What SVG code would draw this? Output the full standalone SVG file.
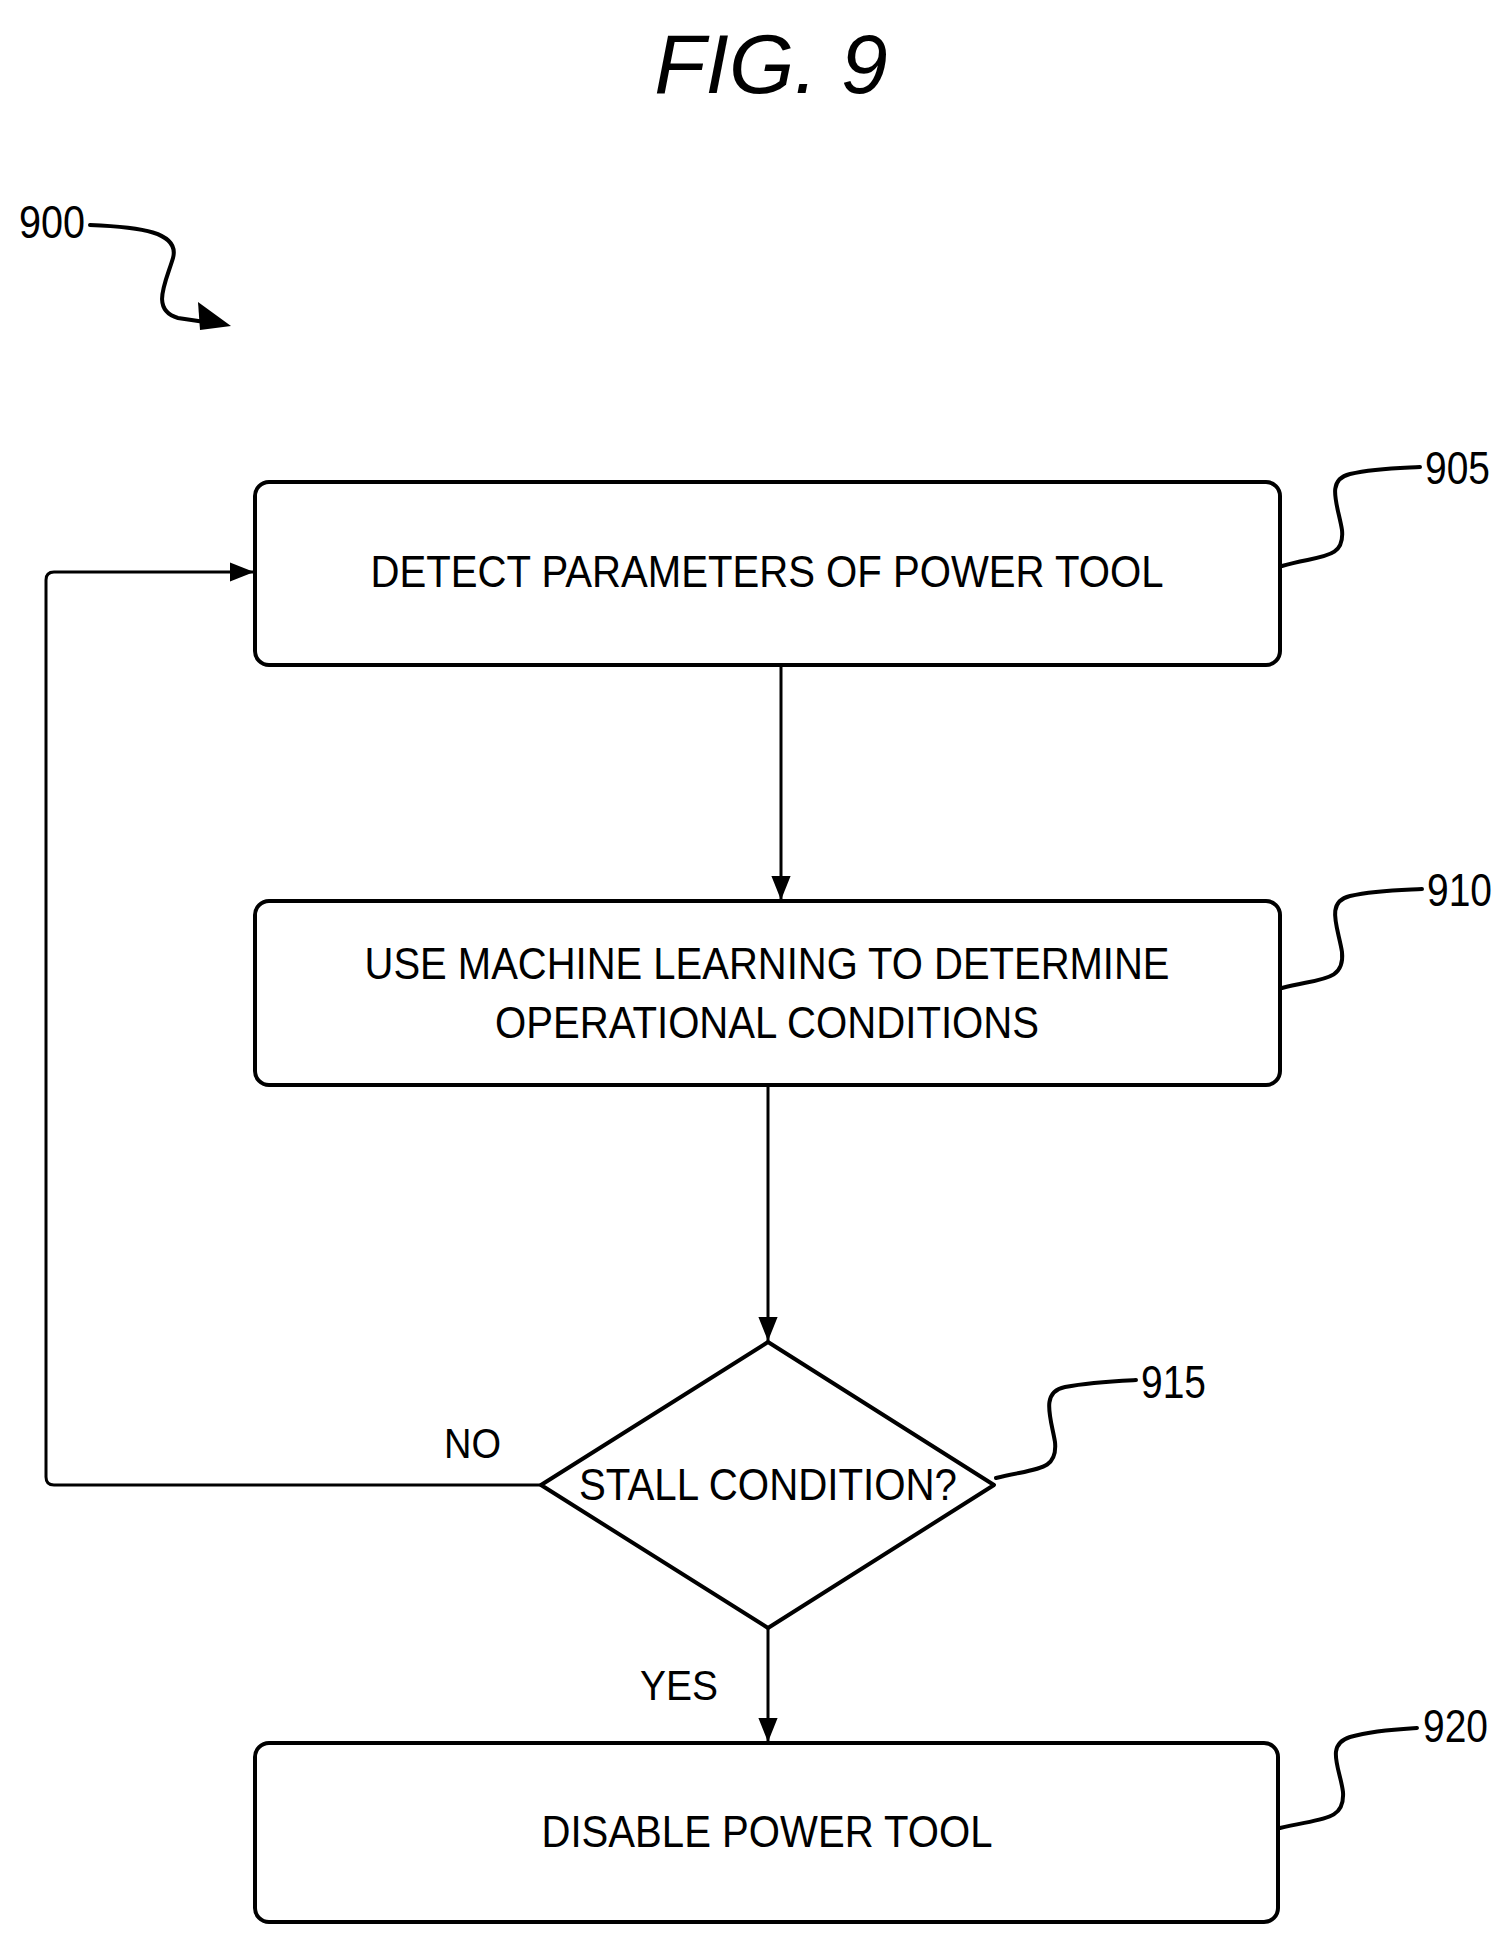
<svg xmlns="http://www.w3.org/2000/svg" width="1509" height="1945" viewBox="0 0 1509 1945">
<style>
text{font-family:"Liberation Sans",Arial,sans-serif;fill:#000}
.t{font-size:44px;text-anchor:middle}
.n{font-size:46px}
.b{fill:none;stroke:#000;stroke-width:4}
.c{fill:none;stroke:#000;stroke-width:3}
.l{fill:none;stroke:#000;stroke-width:4;stroke-linecap:round}
</style>
<defs>
<marker id="ah" viewBox="0 0 20 20" refX="20" refY="10" markerWidth="24" markerHeight="24" orient="auto" markerUnits="userSpaceOnUse"><path d="M0,2L20,10L0,18z"/></marker></defs>
<text x="771" y="93" font-style="italic" text-anchor="middle" style="font-size:84px">FIG. 9</text>
<g id="n900"><text class="n" x="19" y="238" textLength="66" lengthAdjust="spacingAndGlyphs">900</text>
<path class="l" d="M90,225 C140,227 180,232 173,258 C166,282 150,310 178,318 L205,322"/>
<polygon points="231,326 198,302 200,330"/></g>
<g id="n905"><rect class="b" x="255" y="482" width="1025" height="183" rx="14"/>
<text class="t" x="767" y="587" textLength="793" lengthAdjust="spacingAndGlyphs">DETECT PARAMETERS OF POWER TOOL</text>
<path class="l" d="M1282,566 C1320,555 1345,560 1342,530 C1338,505 1325,480 1350,474 C1375,468 1400,468 1420,467"/>
<text class="n" x="1425" y="484" textLength="65" lengthAdjust="spacingAndGlyphs">905</text></g>
<g id="n910"><rect class="b" x="255" y="901" width="1025" height="184" rx="14"/>
<text class="t" x="767" y="979" textLength="805" lengthAdjust="spacingAndGlyphs">USE MACHINE LEARNING TO DETERMINE</text>
<text class="t" x="767" y="1038" textLength="544" lengthAdjust="spacingAndGlyphs">OPERATIONAL CONDITIONS</text>
<path class="l" d="M1282,988 C1320,978 1345,982 1342,952 C1338,927 1325,902 1350,896 C1375,890 1400,890 1422,889"/>
<text class="n" x="1427" y="906" textLength="65" lengthAdjust="spacingAndGlyphs">910</text></g>
<g id="n915"><path class="b" stroke-linejoin="round" d="M768,1342 L994,1485 L768,1628 L541,1485 Z"/>
<text class="t" x="768" y="1500" textLength="378" lengthAdjust="spacingAndGlyphs">STALL CONDITION?</text>
<path class="l" d="M996,1478 C1035,1468 1058,1472 1055,1442 C1051,1418 1040,1392 1065,1387 C1090,1382 1115,1381 1136,1380"/>
<text class="n" x="1141" y="1398" textLength="65" lengthAdjust="spacingAndGlyphs">915</text></g>
<g id="n920"><rect class="b" x="255" y="1743" width="1023" height="179" rx="14"/>
<text class="t" x="767" y="1847" textLength="451" lengthAdjust="spacingAndGlyphs">DISABLE POWER TOOL</text>
<path class="l" d="M1280,1828 C1320,1818 1345,1822 1343,1792 C1340,1768 1325,1745 1350,1737 C1375,1730 1400,1729 1417,1728"/>
<text class="n" x="1423" y="1742" textLength="65" lengthAdjust="spacingAndGlyphs">920</text></g>
<g id="connectors">
<path class="c" marker-end="url(#ah)" d="M781,665 V900"/>
<path class="c" marker-end="url(#ah)" d="M768,1085 V1341"/>
<path class="c" marker-end="url(#ah)" d="M541,1485 H54 Q46,1485 46,1477 V580 Q46,572 54,572 H254"/>
<path class="c" marker-end="url(#ah)" d="M768,1628 V1742"/>
<text x="444" y="1458" style="font-size:42px" textLength="57" lengthAdjust="spacingAndGlyphs">NO</text>
<text x="640" y="1700" style="font-size:42px" textLength="78" lengthAdjust="spacingAndGlyphs">YES</text>
</g>
</svg>
